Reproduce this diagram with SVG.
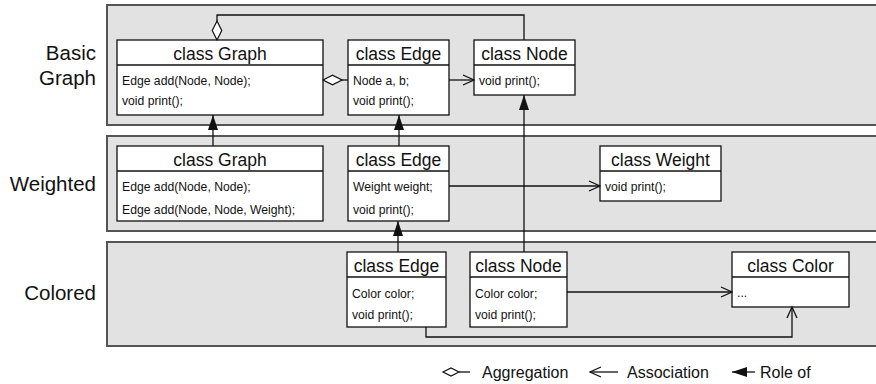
<svg xmlns="http://www.w3.org/2000/svg" width="876" height="384" viewBox="0 0 876 384">
<style>
.panel{fill:#e2e2e2;stroke:#555;stroke-width:2}
.box{fill:#fff;stroke:#111;stroke-width:1.3}
.div{stroke:#111;stroke-width:1.3}
.hd{font-family:"Liberation Sans",Arial,sans-serif;font-size:17.5px;fill:#111;text-anchor:middle}
.bd{font-family:"Liberation Sans",Arial,sans-serif;font-size:12.2px;fill:#111}
.lay{font-family:"Liberation Sans",Arial,sans-serif;font-size:20.5px;fill:#111;text-anchor:end}
.lg{font-family:"Liberation Sans",Arial,sans-serif;font-size:16px;fill:#111}
.c{fill:none;stroke:#111;stroke-width:1.3}
</style>
<defs>
<marker id="open" markerUnits="userSpaceOnUse" viewBox="-1 -1 13 12" refX="11" refY="5" markerWidth="13" markerHeight="12" orient="auto">
<path d="M0,0 L11,5 L0,10" fill="none" stroke="#111" stroke-width="1.3"/>
</marker>
<marker id="fill" markerUnits="userSpaceOnUse" viewBox="0 0 15 10" refX="15" refY="5" markerWidth="15" markerHeight="10" orient="auto">
<path d="M0,0 L15,5 L0,10 z" fill="#111"/>
</marker>
<marker id="dia" markerUnits="userSpaceOnUse" viewBox="-1 -1 21 12" refX="0" refY="4.75" markerWidth="21" markerHeight="12" orient="auto">
<path d="M0,4.75 L9.5,0 L19,4.75 L9.5,9.5 z" fill="#fff" stroke="#111" stroke-width="1.2"/>
</marker>
</defs>

<g id="layers">
<rect class="panel" x="107" y="5" width="780" height="120"/>
<rect class="panel" x="107" y="136" width="780" height="95"/>
<rect class="panel" x="107" y="242" width="780" height="104"/>
<text class="lay" x="96" y="60">Basic</text>
<text class="lay" x="96" y="85">Graph</text>
<text class="lay" x="96" y="191">Weighted</text>
<text class="lay" x="96" y="300">Colored</text>
</g>

<g id="basic-graph">
<rect class="box" x="117" y="40" width="206" height="75"/>
<line class="div" x1="117" y1="65" x2="323" y2="65"/>
<text class="hd" x="220" y="59.5">class Graph</text>
<text class="bd" x="122" y="84.5">Edge add(Node, Node);</text>
<text class="bd" x="122" y="104.5">void print();</text>
</g>
<g id="basic-edge">
<rect class="box" x="348" y="40" width="101" height="75"/>
<line class="div" x1="348" y1="65" x2="449" y2="65"/>
<text class="hd" x="398.5" y="59.5">class Edge</text>
<text class="bd" x="353" y="84.5">Node a, b;</text>
<text class="bd" x="353" y="104.5">void print();</text>
</g>
<g id="basic-node">
<rect class="box" x="474" y="40" width="101" height="55"/>
<line class="div" x1="474" y1="65" x2="575" y2="65"/>
<text class="hd" x="524.5" y="59.5">class Node</text>
<text class="bd" x="479" y="84.5">void print();</text>
</g>

<g id="weighted-graph">
<rect class="box" x="117" y="146" width="206" height="75"/>
<line class="div" x1="117" y1="171" x2="323" y2="171"/>
<text class="hd" x="220" y="165.5">class Graph</text>
<text class="bd" x="122" y="191">Edge add(Node, Node);</text>
<text class="bd" x="122" y="213.5">Edge add(Node, Node, Weight);</text>
</g>
<g id="weighted-edge">
<rect class="box" x="348" y="146" width="101" height="75"/>
<line class="div" x1="348" y1="171" x2="449" y2="171"/>
<text class="hd" x="398.5" y="165.5">class Edge</text>
<text class="bd" x="353" y="191">Weight weight;</text>
<text class="bd" x="353" y="213.5">void print();</text>
</g>
<g id="weighted-weight">
<rect class="box" x="600" y="146" width="121" height="55"/>
<line class="div" x1="600" y1="171" x2="721" y2="171"/>
<text class="hd" x="660.5" y="165.5">class Weight</text>
<text class="bd" x="605" y="191">void print();</text>
</g>

<g id="colored-edge">
<rect class="box" x="347" y="252" width="99" height="75"/>
<line class="div" x1="347" y1="277" x2="446" y2="277"/>
<text class="hd" x="396.5" y="271.5">class Edge</text>
<text class="bd" x="352" y="297.5">Color color;</text>
<text class="bd" x="352" y="318.5">void print();</text>
</g>
<g id="colored-node">
<rect class="box" x="470" y="252" width="97" height="75"/>
<line class="div" x1="470" y1="277" x2="567" y2="277"/>
<text class="hd" x="518.5" y="271.5">class Node</text>
<text class="bd" x="475" y="297.5">Color color;</text>
<text class="bd" x="475" y="318.5">void print();</text>
</g>
<g id="colored-color">
<rect class="box" x="732" y="252" width="117" height="55"/>
<line class="div" x1="732" y1="277" x2="849" y2="277"/>
<text class="hd" x="790.5" y="271.5">class Color</text>
<text class="bd" x="737" y="297">...</text>
</g>

<g id="connectors">
<path class="c" d="M217,40 V15 H524 V40" marker-start="url(#dia)"/>
<path class="c" d="M323,80 H348" marker-start="url(#dia)"/>
<path class="c" d="M449,80 H474" marker-end="url(#open)"/>
<path class="c" d="M213,146 V115" marker-end="url(#fill)"/>
<path class="c" d="M399,146 V115" marker-end="url(#fill)"/>
<path class="c" d="M524,252 V95" marker-end="url(#fill)"/>
<path class="c" d="M398,252 V221" marker-end="url(#fill)"/>
<path class="c" d="M449,186 H600" marker-end="url(#open)"/>
<path class="c" d="M567,292 H732" marker-end="url(#open)"/>
<path class="c" d="M426,327 V337 H792 V307" marker-end="url(#open)"/>
</g>

<g id="legend">
<path class="c" d="M459,372 H470" />
<path d="M443,372 L451,368 L459,372 L451,376 z" fill="#fff" stroke="#111" stroke-width="1.2"/>
<text class="lg" x="482" y="377.5">Aggregation</text>
<path class="c" d="M618,372 H590" marker-end="url(#open)"/>
<text class="lg" x="627" y="377.5">Association</text>
<path class="c" d="M755,372 H732" marker-end="url(#fill)"/>
<text class="lg" x="760" y="377.5">Role of</text>
</g>
</svg>
